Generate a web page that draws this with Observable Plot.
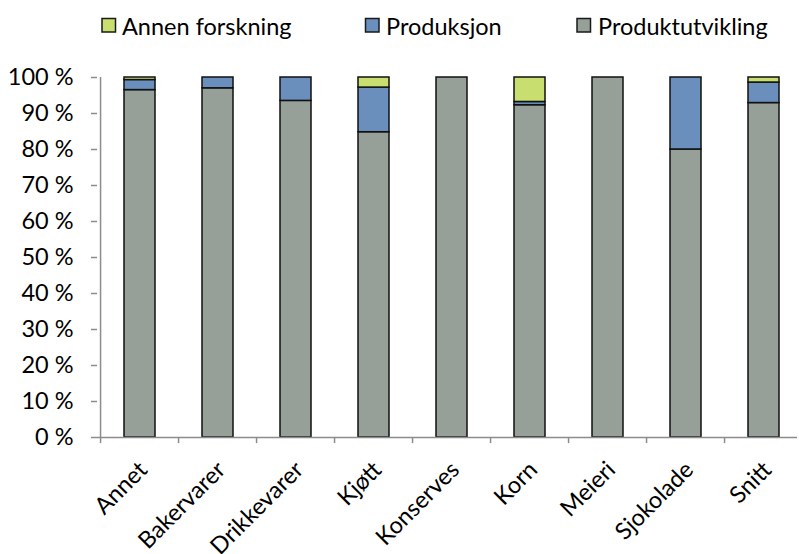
<!DOCTYPE html>
<html>
<head>
<meta charset="utf-8">
<script src="https://cdn.jsdelivr.net/npm/d3@7"></script>
<script src="https://cdn.jsdelivr.net/npm/@observablehq/plot@0.6"></script>
<style>
  html, body { margin: 0; padding: 0; background: #fff; }
  #wrap { width: 799px; height: 554px; position: relative; font-family: Lato, sans-serif; }
  #legend { display: block; }
</style>
</head>
<body>
<div id="wrap"></div>
<script>
const categories = ["Annet", "Bakervarer", "Drikkevarer", "Kjøtt", "Konserves", "Korn", "Meieri", "Sjokolade", "Snitt"];
const seriesNames = ["Produktutvikling", "Produksjon", "Annen forskning"];
const produktutvikling = [96.5, 97.0, 93.5, 84.8, 100, 92.3, 100, 80.0, 92.9];
const produksjon      = [2.8, 3.0, 6.5, 12.4, 0, 0.9, 0, 20.0, 5.7];
const annenForskning  = [0.7, 0, 0, 2.8, 0, 6.8, 0, 0, 1.4];
const yTicks = [0, 10, 20, 30, 40, 50, 60, 70, 80, 90, 100];
const legendOrder = ["Annen forskning", "Produksjon", "Produktutvikling"];
const colors = {"Produktutvikling": "#979f99", "Produksjon": "#6a8fbd", "Annen forskning": "#c8df6f"};

const seriesValues = [produktutvikling, produksjon, annenForskning];
const data = [];
categories.forEach((c, i) => {
  seriesNames.forEach((s, j) => {
    const v = seriesValues[j][i];
    if (v > 0) data.push({category: c, series: s, value: v, order: j});
  });
});

const wrap = document.getElementById("wrap");

// Legend (real text)
const legendPos = [
  {sx: 102, tx: 122},
  {sx: 365.5, tx: 386},
  {sx: 577, tx: 598}
];
const ns = "http://www.w3.org/2000/svg";
const leg = document.createElementNS(ns, "svg");
leg.setAttribute("width", 799);
leg.setAttribute("height", 50);
leg.setAttribute("id", "legend");
legendOrder.forEach((name, i) => {
  const r = document.createElementNS(ns, "rect");
  r.setAttribute("x", legendPos[i].sx);
  r.setAttribute("y", 18.5);
  r.setAttribute("width", 13.5);
  r.setAttribute("height", 13.5);
  r.setAttribute("fill", colors[name]);
  r.setAttribute("stroke", "#1a1a1a");
  r.setAttribute("stroke-width", 1.5);
  leg.appendChild(r);
  const t = document.createElementNS(ns, "text");
  t.setAttribute("x", legendPos[i].tx);
  t.setAttribute("y", 35);
  t.setAttribute("font-family", "Lato, sans-serif");
  t.setAttribute("font-size", "23.5px");
  t.setAttribute("fill", "#000");
  t.textContent = name;
  leg.appendChild(t);
});
wrap.appendChild(leg);

const left = 97;
const right = 807;
const step = (right - left) / 9;
const half = step / 2;

const chart = Plot.plot({
  width: 799,
  height: 504,
  marginLeft: 97,
  marginRight: 2,
  marginTop: 27,
  marginBottom: 117,
  style: {fontFamily: "Lato, sans-serif", fontSize: "23.5px", color: "#000", background: "#fff", overflow: "visible"},
  x: {domain: categories, range: [left, right], paddingInner: 0.6, paddingOuter: 0.3, axis: null, label: null},
  y: {domain: [0, 100], axis: null, label: null},
  color: {domain: seriesNames, range: seriesNames.map(s => colors[s])},
  marks: [
    Plot.axisY({ticks: yTicks, tickFormat: d => d + " %", label: null, tickSize: 6, tickPadding: 18, stroke: "#8c8c8c", fill: "#000", strokeWidth: 1.5, strokeOpacity: 1}),
    Plot.barY(data, Plot.stackY({
      x: "category", y: "value", fill: "series", order: "order",
      stroke: "#111", strokeWidth: 1.5
    })),
    // y axis line
    Plot.ruleX([categories[0]], {x: d => d, dx: -half, y1: 0, y2: 100, stroke: "#8c8c8c", strokeWidth: 1.5}),
    // x axis line
    Plot.ruleY([0], {stroke: "#8c8c8c", strokeWidth: 1.5}),
    // category boundary ticks
    Plot.ruleX(categories, {x: d => d, dx: -half, y1: 0, y2: -1.7, stroke: "#8c8c8c", strokeWidth: 1.5}),
    // rotated category labels
    Plot.text(categories, {x: d => d, y: () => 0, text: d => d, rotate: -45, textAnchor: "end", lineAnchor: "top", dx: -3, dy: 22, fill: "#000"})
  ]
});
wrap.appendChild(chart);
</script>
</body>
</html>
